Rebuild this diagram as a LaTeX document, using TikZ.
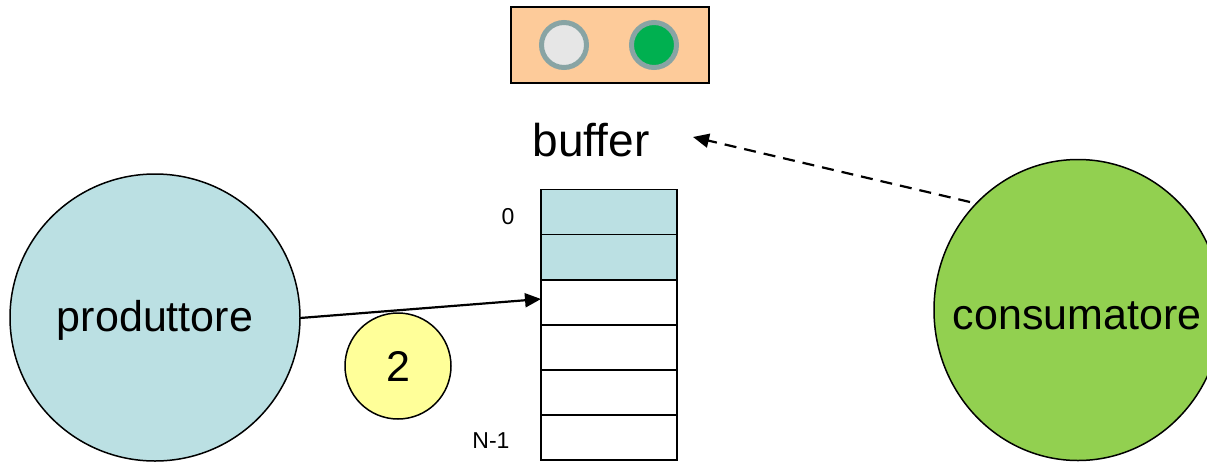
\documentclass[tikz,border=0pt]{standalone}
\usepackage{fontspec}
\setmainfont{Liberation Sans}[Ligatures=NoCommon]
\usetikzlibrary{arrows.meta,shapes.geometric}
\definecolor{peach}{HTML}{FDCB9A}
\definecolor{ringgray}{HTML}{88A4A4}
\definecolor{lightgray}{HTML}{E6E6E6}
\definecolor{ledgreen}{HTML}{00B050}
\definecolor{lightblue}{HTML}{BBE0E3}
\definecolor{limegreen}{HTML}{92D050}
\definecolor{paleyellow}{HTML}{FFFF99}
\tikzset{
  cell/.style={draw=black, line width=1.5pt, minimum width=136pt, minimum height=45pt, inner sep=0pt, outer sep=0pt, fill=white},
  fullcell/.style={cell, fill=lightblue},
  proc/.style={ellipse, draw=black, line width=1.5pt, inner sep=0pt, font=\fontsize{43}{46}\selectfont},
  led/.style={circle, draw=ringgray, line width=5pt, minimum size=45pt, inner sep=0pt},
  idx/.style={font=\fontsize{23}{25}\selectfont},
  arr/.style={line width=2.2pt, -{Triangle[length=16pt,width=14pt]}},
}
\begin{document}
\begin{tikzpicture}[x=1pt,y=-1pt]
\useasboundingbox (0,0) rectangle (1207,464);
% semaphore box
\node[draw=black, line width=2pt, fill=peach, minimum width=198pt, minimum height=76pt, inner sep=0pt] (sem) at (610,45) {};
\node[led, fill=lightgray] (led1) at (564,45) {};
\node[led, fill=ledgreen] (led2) at (654,45) {};
% buffer label
\node[font=\fontsize{46}{50}\selectfont] (buflabel) at (591,140) {buffer};
% cells
\node[fullcell] (c0) at (609,212) {};
\node[fullcell] (c1) at (609,257) {};
\node[cell] (c2) at (609,302.5) {};
\node[cell] (c3) at (609,347.5) {};
\node[cell] (c4) at (609,392.5) {};
\node[cell] (c5) at (609,437.5) {};
\node[idx] (i0) at (508,217) {0};
\node[idx] (iN) at (491,441) {N-1};
% processes
\node[proc, fill=lightblue, minimum width=290pt, minimum height=287pt] (prod) at (155,317.5) {};
\node[font=\fontsize{43}{46}\selectfont] (prodlabel) at (155,320) {produttore};
\node[proc, fill=limegreen, minimum width=288pt, minimum height=301pt] (cons) at (1078,310) {};
\node[font=\fontsize{43}{46}\selectfont] (conslabel) at (1077,316) {consumatore};
\node[proc, fill=paleyellow, minimum size=106pt] (tok) at (398,366) {2};
% arrows
\coordinate (src) at (300,318);
\coordinate (tgt) at (541,299);
\draw[arr] (src) -- (tgt);
\coordinate (dsrc) at (970,202);
\coordinate (dtgt) at (693,137);
\draw[arr, dashed, dash pattern=on 12pt off 8pt] (dsrc) -- (dtgt);
\end{tikzpicture}
\end{document}
